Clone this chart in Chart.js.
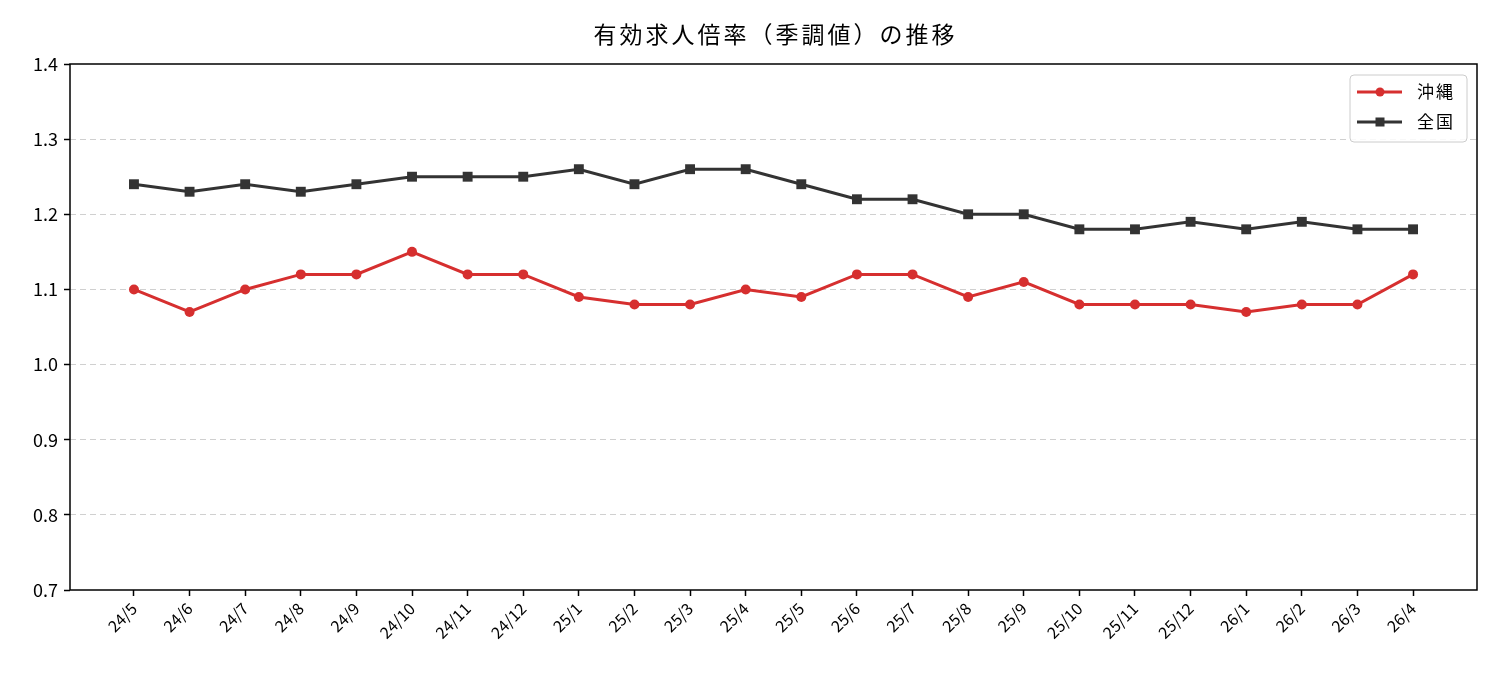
<!DOCTYPE html>
<html>
<head>
<meta charset="utf-8">
<script src="https://cdn.jsdelivr.net/npm/chart.js@4"></script>
<style>
  body { margin: 0; background: #fff; }
  #wrap { width: 1500px; height: 675px; }
</style>
</head>
<body>
<div id="wrap"><canvas id="c"></canvas></div>
<script>
const months = [
	'24/5', '24/6', '24/7', '24/8', '24/9', '24/10', '24/11', '24/12',
	'25/1', '25/2', '25/3', '25/4', '25/5', '25/6', '25/7', '25/8',
	'25/9', '25/10', '25/11', '25/12', '26/1', '26/2', '26/3', '26/4',
];
const okinawa = [
	1.10, 1.07, 1.10, 1.12, 1.12, 1.15, 1.12, 1.12,
	1.09, 1.08, 1.08, 1.10, 1.09, 1.12, 1.12, 1.09,
	1.11, 1.08, 1.08, 1.08, 1.07, 1.08, 1.08, 1.12,
];
const national = [
	1.24, 1.23, 1.24, 1.23, 1.24, 1.25, 1.25, 1.25,
	1.26, 1.24, 1.26, 1.26, 1.24, 1.22, 1.22, 1.20,
	1.20, 1.18, 1.18, 1.19, 1.18, 1.19, 1.18, 1.18,
];
const yTicks = [0.7, 0.8, 0.9, 1.0, 1.1, 1.2, 1.3, 1.4];

const FONT = '"Noto Sans CJK JP", "Noto Sans", sans-serif';
const RED = '#d62f2f';
const DARK = '#333333';

const toPoints = arr => arr.map( ( v, i ) => ( { x: i, y: v } ) );

// frame, title and boxed legend like the original
const decor = {
	id: 'decor',
	afterDraw( chart ) {
		const { ctx, chartArea: a } = chart;
		ctx.save();
		ctx.strokeStyle = '#000';
		ctx.lineWidth = 1.5;
		ctx.strokeRect( a.left, a.top, a.right - a.left, a.bottom - a.top );

		ctx.fillStyle = '#000';
		ctx.font = '23px ' + FONT;
		ctx.letterSpacing = '3px';
		ctx.textAlign = 'center';
		ctx.textBaseline = 'middle';
		ctx.fillText( '有効求人倍率（季調値）の推移', ( a.left + a.right ) / 2 + 2, 34 );

		const bx = a.right - 127, by = a.top + 11, bw = 117, bh = 67;
		ctx.fillStyle = 'rgba(255,255,255,0.85)';
		ctx.strokeStyle = '#cccccc';
		ctx.lineWidth = 1;
		ctx.beginPath();
		ctx.roundRect( bx, by, bw, bh, 4 );
		ctx.fill();
		ctx.stroke();

		const items = [
			{ label: '沖縄', color: RED, style: 'circle' },
			{ label: '全国', color: DARK, style: 'rect' },
		];
		items.forEach( ( it, i ) => {
			const y = by + 17 + i * 30;
			ctx.strokeStyle = it.color;
			ctx.lineWidth = 3;
			ctx.beginPath();
			ctx.moveTo( bx + 7, y );
			ctx.lineTo( bx + 52, y );
			ctx.stroke();
			ctx.fillStyle = it.color;
			if ( it.style === 'circle' ) {
				ctx.beginPath();
				ctx.arc( bx + 30, y, 4.5, 0, Math.PI * 2 );
				ctx.fill();
			} else {
				ctx.fillRect( bx + 25.5, y - 4.5, 9, 9 );
			}
			ctx.fillStyle = '#000';
			ctx.font = '17px ' + FONT;
			ctx.letterSpacing = '2px';
			ctx.textAlign = 'left';
			ctx.fillText( it.label, bx + 67, y );
		} );
		ctx.restore();
	},
};

new Chart( document.getElementById( 'c' ).getContext( '2d' ), {
	type: 'line',
	data: {
		datasets: [
			{
				label: '沖縄',
				data: toPoints( okinawa ),
				borderColor: RED,
				backgroundColor: RED,
				borderWidth: 3,
				pointStyle: 'circle',
				pointRadius: 5,
				pointBorderWidth: 0,
			},
			{
				label: '全国',
				data: toPoints( national ),
				borderColor: DARK,
				backgroundColor: DARK,
				borderWidth: 3,
				pointStyle: 'rect',
				pointRadius: 7,
				pointBorderWidth: 0,
			},
		],
	},
	options: {
		responsive: true,
		maintainAspectRatio: false,
		animation: false,
		layout: { padding: { top: 64, right: 23, left: 0, bottom: 0 } },
		plugins: {
			legend: { display: false },
			title: { display: false },
			tooltip: { enabled: false },
		},
		scales: {
			x: {
				type: 'linear',
				min: -1.15,
				max: 24.15,
				afterBuildTicks: scale => {
					scale.ticks = months.map( ( m, i ) => ( { value: i } ) );
				},
				afterFit: scale => { scale.height = 85; },
				ticks: {
					autoSkip: false,
					minRotation: 45,
					maxRotation: 45,
					color: '#000',
					padding: 3,
					font: { family: FONT, size: 16 },
					callback: v => months[ v ] ?? '',
				},
				grid: {
					color: 'rgba(0,0,0,0)',
					tickColor: '#000',
					tickLength: 6,
					tickWidth: 1.5,
				},
				border: { display: false },
			},
			y: {
				min: 0.7,
				max: 1.4,
				afterBuildTicks: scale => {
					scale.ticks = yTicks.map( v => ( { value: v } ) );
				},
				afterFit: scale => { scale.width = 70; },
				ticks: {
					color: '#000',
					padding: 6,
					font: { family: FONT, size: 18 },
					callback: v => v.toFixed( 1 ),
				},
				grid: {
					color: ctx => ( ctx.tick && ( ctx.tick.value <= 0.7 || ctx.tick.value >= 1.4 ) ) ? 'rgba(0,0,0,0)' : '#d0d0d0',
					lineWidth: 1,
					tickColor: '#000',
					tickLength: 6,
					tickWidth: 1.5,
					tickBorderDash: [],
				},
				border: { display: false, dash: [6, 4] },
			},
		},
	},
	plugins: [ decor ],
} );
</script>
</body>
</html>
